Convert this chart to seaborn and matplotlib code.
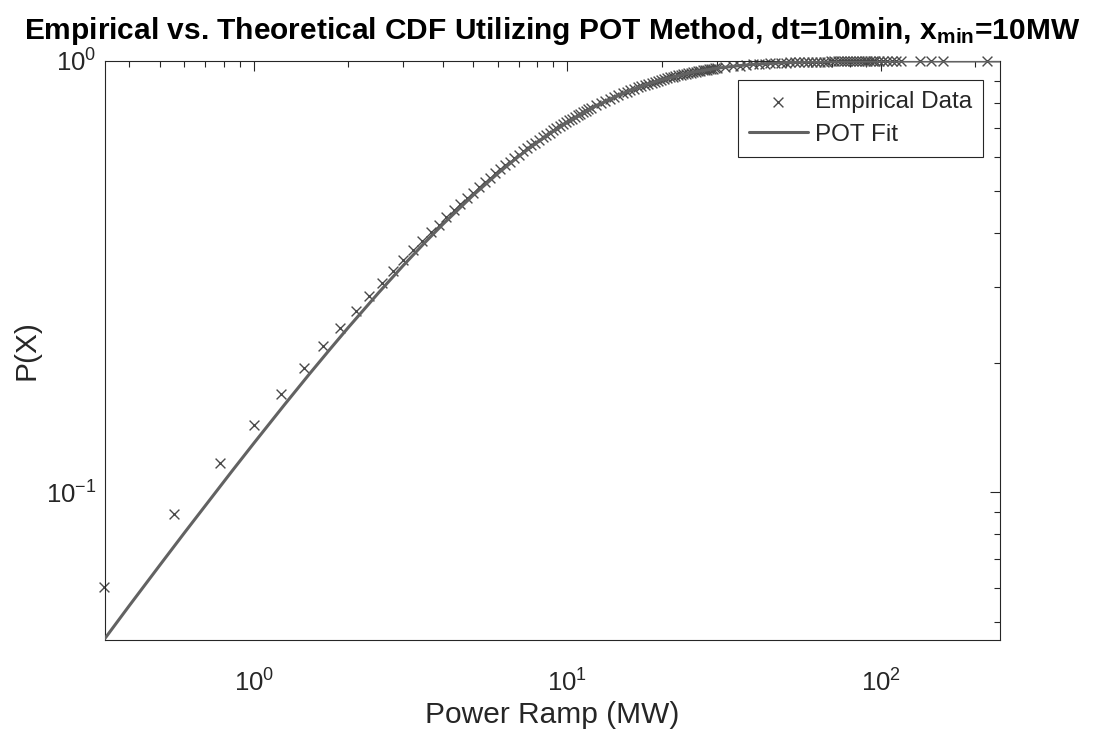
import numpy as np
import pandas as pd
import matplotlib
matplotlib.use("Agg")
import matplotlib.pyplot as plt
import seaborn as sns
from matplotlib.ticker import NullFormatter, LogLocator

# ---------------- data ----------------
emp_x = [
    0.333, 0.556, 0.778, 1.000, 1.222, 1.444, 1.667, 1.889, 2.111, 2.333,
    2.556, 2.778, 3.000, 3.222, 3.444, 3.667, 3.889, 4.111, 4.333, 4.556,
    4.778, 5.000, 5.222, 5.444, 5.667, 5.889, 6.111, 6.333, 6.556, 6.778,
    7.000, 7.222, 7.444, 7.667, 7.889, 8.111, 8.333, 8.556, 8.778, 9.000,
    9.222, 9.444, 9.667, 9.889, 10.111, 10.333, 10.556, 10.778, 11.000, 11.222,
    11.444, 11.667, 11.889,
    12.333, 12.778, 13.222, 13.667, 14.111, 14.556, 15.000, 15.444, 15.889, 16.333,
    16.778, 17.222, 17.667, 18.111, 18.556, 19.000, 19.444, 19.889, 20.333, 20.778,
    21.222, 21.667, 22.111, 22.556, 23.000, 23.444, 23.889, 24.333, 24.778, 25.222,
    25.667, 26.111, 26.556, 27.000, 27.444, 27.889, 28.333, 28.778, 29.222, 29.667,
    30.111,
    31.889, 33.667, 35.444, 37.222, 39.000, 40.778, 42.556, 44.333, 46.111, 47.889,
    49.667, 51.444, 53.222, 55.000, 56.778, 58.556, 60.333, 62.111, 63.889, 65.667,
    67.444, 69.222, 71.000, 72.778, 74.556, 76.333, 78.111, 79.889, 81.667, 83.444,
    85.222, 87.000, 88.778, 90.556, 92.333, 94.111, 95.889,
    98.5, 101.6, 104.9, 108.2, 112.0, 116.4, 133.0, 145.0, 158.0, 218.0,
]
emp_p = [
    0.0604, 0.0890, 0.1167, 0.1433, 0.1691, 0.1939, 0.2179, 0.2411, 0.2636, 0.2851,
    0.3061, 0.3263, 0.3458, 0.3647, 0.3830, 0.4007, 0.4178, 0.4343, 0.4503, 0.4658,
    0.4808, 0.4952, 0.5093, 0.5229, 0.5360, 0.5487, 0.5610, 0.5730, 0.5846, 0.5957,
    0.6067, 0.6172, 0.6275, 0.6373, 0.6469, 0.6563, 0.6653, 0.6740, 0.6825, 0.6907,
    0.6988, 0.7065, 0.7140, 0.7213, 0.7284, 0.7353, 0.7420, 0.7484, 0.7548, 0.7608,
    0.7668, 0.7727, 0.7783,
    0.7891, 0.7992, 0.8088, 0.8179, 0.8265, 0.8346, 0.8423, 0.8496, 0.8565, 0.8630,
    0.8692, 0.8751, 0.8807, 0.8860, 0.8910, 0.8958, 0.9003, 0.9046, 0.9087, 0.9126,
    0.9163, 0.9198, 0.9232, 0.9264, 0.9294, 0.9323, 0.9351, 0.9377, 0.9402, 0.9426,
    0.9449, 0.9471, 0.9492, 0.9512, 0.9531, 0.9549, 0.9566, 0.9583, 0.9599, 0.9614,
    0.9628,
    0.9680, 0.9724, 0.9761, 0.9793, 0.9820, 0.9843, 0.9862, 0.9879, 0.9894, 0.9906,
    0.9917, 0.9926, 0.9935, 0.9942, 0.9948, 0.9954, 0.9959, 0.9963, 0.9967, 0.9970,
    0.9973, 0.9976, 0.9978, 0.9980, 0.9982, 0.9984, 0.9985, 0.9987, 0.9988, 0.9989,
    0.9990, 0.9991, 0.9992, 0.9993, 0.9993, 0.9994, 0.9994,
    0.9995, 0.9995, 0.9996, 0.9996, 0.9997, 0.9997, 0.9998, 0.9998, 0.9999, 1.0000,
]

fit_x = [0.335, 0.4, 0.5, 0.6, 0.7, 0.85, 1.0, 1.25, 1.5, 1.75, 2.0, 2.5, 3.0, 3.5,
         4.0, 5.0, 6.0, 7.0, 8.0, 9.0, 10.0, 12.0, 14.0, 16.0, 18.0, 20.0, 25.0,
         30.0, 35.0, 40.0, 50.0, 60.0, 70.0, 85.0, 100.0, 130.0, 170.0, 240.0]
fit_p = [0.0459, 0.0546, 0.0677, 0.0806, 0.0932, 0.1119, 0.1301, 0.1595, 0.1878,
         0.2149, 0.2411, 0.2904, 0.3362, 0.3785, 0.4178, 0.4881, 0.5487, 0.6013,
         0.6469, 0.6867, 0.7213, 0.7783, 0.8223, 0.8565, 0.8833, 0.9046, 0.9408,
         0.9621, 0.9750, 0.9832, 0.9918, 0.9957, 0.9976, 0.9990, 0.9995, 0.99985,
         0.99996, 1.0]

title_text = r"Empirical vs. Theoretical CDF Utilizing POT Method, dt=10min, $\mathbf{x_{min}}$=10MW"
x_label = "Power Ramp (MW)"
y_label = "P(X)"
legend_labels = ["Empirical Data", "POT Fit"]

# ---------------- styling ----------------
sns.set_theme(style="white")
plt.rcParams["font.family"] = ["Liberation Sans", "DejaVu Sans"]
plt.rcParams["mathtext.fontset"] = "custom"
plt.rcParams["mathtext.rm"] = "Liberation Sans"
plt.rcParams["mathtext.bf"] = "Liberation Sans:bold"
plt.rcParams["mathtext.it"] = "Liberation Sans:italic"
plt.rcParams["axes.unicode_minus"] = False

text_col = "#262626"
line_col = "#626262"
mark_col = "#4a4a4a"

fig = plt.figure(figsize=(10.93, 7.34), dpi=100)
ax = fig.add_axes([0.0961, 0.1281, 0.9149 - 0.0961, 0.9169 - 0.1281])

emp_df = pd.DataFrame({"x": emp_x, "p": emp_p})
fit_df = pd.DataFrame({"x": fit_x, "p": fit_p})

sns.scatterplot(data=emp_df, x="x", y="p", marker="x", s=50, color=mark_col,
                linewidth=1.0, ax=ax, label=legend_labels[0], clip_on=False, zorder=2)
sns.lineplot(data=fit_df, x="x", y="p", color=line_col, linewidth=2.2, ax=ax,
             label=legend_labels[1], zorder=3, sort=False)

ax.set_xscale("log")
ax.set_yscale("log")
ax.set_xlim(0.335, 240)
ax.set_ylim(0.0455, 1.0)

ax.xaxis.set_minor_formatter(NullFormatter())
ax.yaxis.set_minor_formatter(NullFormatter())
ax.yaxis.set_major_locator(LogLocator(base=10, numticks=10))
ax.yaxis.set_minor_locator(LogLocator(base=10, subs=np.arange(2, 10) * 1.0, numticks=20))

ax.tick_params(which="both", direction="in", top=True, right=True,
               colors=text_col, labelsize=18.5, width=0.8)
ax.tick_params(axis="x", which="major", length=7, pad=21)
ax.tick_params(axis="y", which="major", length=7, pad=6)
ax.tick_params(which="minor", length=4)
for sp in ax.spines.values():
    sp.set_visible(True)
    sp.set_color(text_col)
    sp.set_linewidth(0.8)

ax.set_xlabel(x_label, fontsize=21.5, color=text_col, labelpad=3)
ax.set_ylabel(y_label, fontsize=21.5, color=text_col, labelpad=4)
ax.set_title(title_text, fontsize=21.5, fontweight="bold", color="black", pad=16)

leg = ax.legend(loc="upper right", bbox_to_anchor=(0.981, 0.967), fontsize=17.5,
                frameon=True, fancybox=False, edgecolor=text_col, framealpha=1,
                borderpad=0.45, labelspacing=0.45, handlelength=2.4, handletextpad=0.3,
                borderaxespad=0)
leg.get_frame().set_linewidth(0.8)

fig.savefig("out.png", dpi=100)
